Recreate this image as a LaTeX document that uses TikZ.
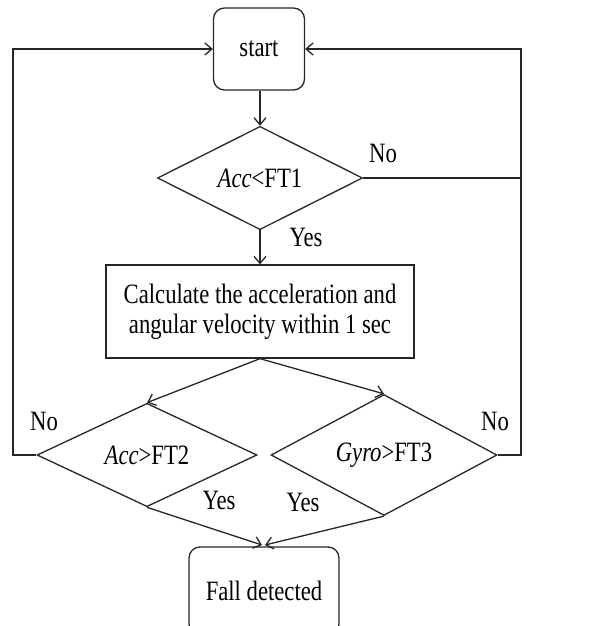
\documentclass[tikz,border=0pt]{standalone}
\usepackage{fontspec}
\setmainfont[FakeStretch=0.81]{Liberation Serif}
\usetikzlibrary{shapes.geometric,arrows.meta}
\begin{document}
\begin{tikzpicture}[x=1pt,y=-1pt,
  every node/.style={font=\fontsize{28}{30}\selectfont},
  conn/.style={line width=1.3pt,draw=black!85},
  arr/.style={conn,-{Straight Barb[length=7pt,width=12pt,line width=1.3pt]}},
  roundbox/.style={draw=black!85,line width=1.3pt,rounded corners=11pt,inner sep=0pt},
  plainbox/.style={draw=black!85,line width=1.3pt,inner sep=0pt,align=center},
  decision/.style={draw=black!85,line width=1.3pt,diamond,inner sep=0pt},
  lbl/.style={inner sep=0pt}]
\useasboundingbox (0,0) rectangle (598,626);
\node[roundbox,minimum width=91pt,minimum height=82pt] (start) at (259,49) {start};
\node[decision,minimum width=205pt,minimum height=75pt] (d1) at (260,178) {\textit{Acc}<FT1};
\node[plainbox,minimum width=308pt,minimum height=93pt] (calc) at (260,311.5) {Calculate the acceleration and\\angular velocity within 1 sec};
\node[decision,minimum width=220pt,minimum height=74pt] (d2) at (147,455) {\textit{Acc}>FT2};
\node[decision,minimum width=226pt,minimum height=74pt] (d3) at (384,455) {\textit{Gyro}>FT3};
\node[roundbox,minimum width=150pt,minimum height=88pt] (fall) at (264,591) {Fall detected};
\coordinate (lc) at (13,455);
\coordinate (rc) at (521,455);
\coordinate (ft1) at (262,545);
\coordinate (ft2) at (265,545);
\draw[arr] (start.south -| d1.north) -- (d1.north);
\draw[arr] (d1.south) -- (calc.north);
\draw[arr] (calc.south) -- (d2.north);
\draw[arr] (calc.south) -- (d3.north);
\draw[arr] (d2.south) -- (ft1);
\draw[arr] (d3.south) -- (ft2);
\draw[arr] (d2.west) -- (lc) |- (start.west);
\draw[arr] (d3.east) -- (rc) |- (start.east);
\draw[conn] (d1.east) -- (d1.east -| rc);
\node[lbl] (no1) at (383,153) {No};
\node[lbl] (yes1) at (306,237) {Yes};
\node[lbl] (no2) at (44,421) {No};
\node[lbl] (no3) at (495,421) {No};
\node[lbl] (yes2) at (219,500) {Yes};
\node[lbl] (yes3) at (303,502) {Yes};
\end{tikzpicture}
\end{document}
